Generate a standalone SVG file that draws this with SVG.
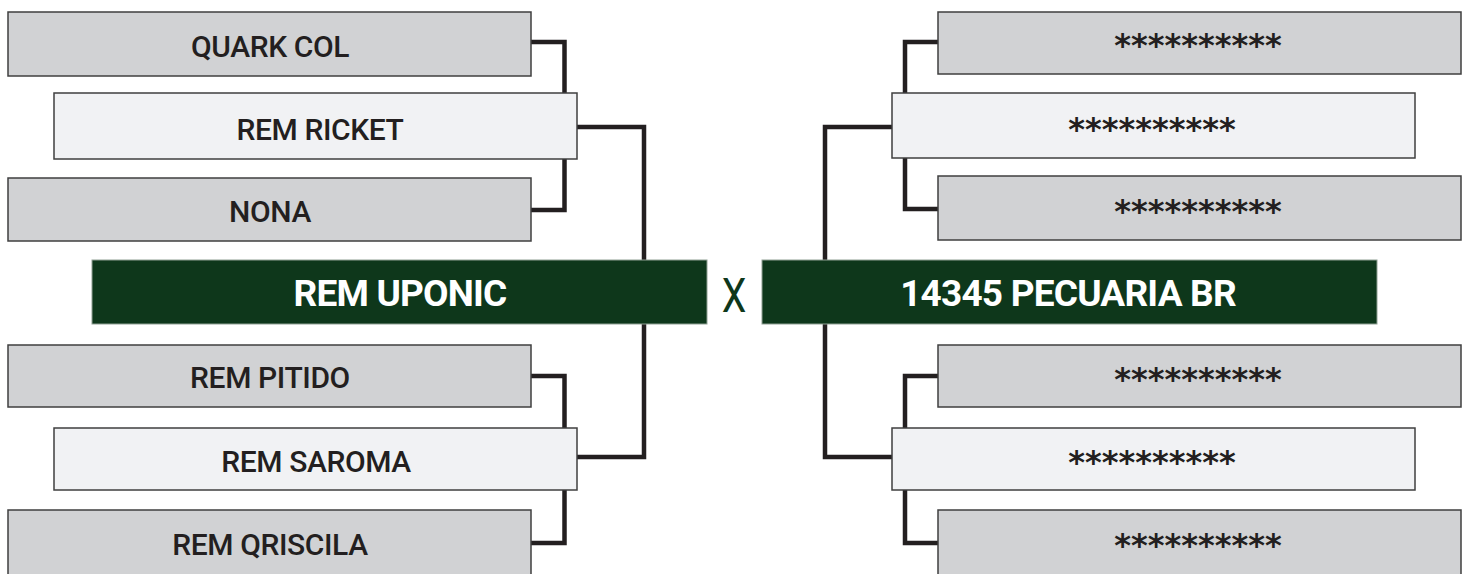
<svg xmlns="http://www.w3.org/2000/svg" width="1469" height="574" viewBox="0 0 1469 574">
<style>
.bg{fill:#ffffff}
.dk{fill:#d1d2d4;stroke:#3f3f3f;stroke-width:1.5}
.lt{fill:#f1f2f4;stroke:#3f3f3f;stroke-width:1.5}
.gr{fill:#0e371b;stroke:#8fa094;stroke-width:1}
.lbl{font-family:Roboto,"Liberation Sans",sans-serif;font-weight:500;font-size:30px;fill:#231f20;text-anchor:middle;letter-spacing:-0.4px}
.big{font-family:Roboto,"Liberation Sans",sans-serif;font-weight:700;font-size:37px;fill:#ffffff;text-anchor:middle;letter-spacing:-0.8px}
.ast{font-family:"DejaVu Sans",sans-serif;font-weight:700;font-size:32px;fill:#231f20;text-anchor:middle}
.vs{font-family:Roboto,"Liberation Sans",sans-serif;font-weight:400;font-size:49px;fill:#0e371b;text-anchor:middle}
.cn{fill:none;stroke:#231f20;stroke-width:4.5;stroke-linejoin:miter}
</style>
<rect class="bg" x="0" y="0" width="1469" height="574"/>
<g id="connectors">
<path class="cn" d="M531,42 H564.5 V210 H531"/>
<path class="cn" d="M577,127 H644 V457 H577"/>
<path class="cn" d="M531,376 H564.5 V543 H531"/>
<path class="cn" d="M938,42 H905 V209 H938"/>
<path class="cn" d="M892,127 H825 V457 H892"/>
<path class="cn" d="M938,376 H905 V543 H938"/>
</g>
<g id="quark-col"><rect class="dk" x="8" y="12" width="523" height="64"/><text class="lbl" x="270" y="57">QUARK COL</text></g>
<g id="rem-ricket"><rect class="lt" x="54" y="93" width="523" height="66"/><text class="lbl" x="320" y="140">REM RICKET</text></g>
<g id="nona"><rect class="dk" x="8" y="178" width="523" height="63"/><text class="lbl" x="270" y="222">NONA</text></g>
<g id="rem-uponic"><rect class="gr" x="92" y="260" width="615" height="64"/><text class="big" x="400" y="306">REM UPONIC</text></g>
<g id="versus"><text class="vs" transform="translate(734,312) scale(0.8,1)" x="0" y="0">X</text></g>
<g id="pecuaria"><rect class="gr" x="762" y="260" width="615" height="64"/><text class="big" x="1068" y="306">14345 PECUARIA BR</text></g>
<g id="rem-pitido"><rect class="dk" x="8" y="345" width="523" height="62"/><text class="lbl" x="270" y="388">REM PITIDO</text></g>
<g id="rem-saroma"><rect class="lt" x="54" y="428" width="523" height="62"/><text class="lbl" x="316" y="472">REM SAROMA</text></g>
<g id="rem-qriscila"><rect class="dk" x="8" y="510" width="523" height="72"/><text class="lbl" x="270" y="555">REM QRISCILA</text></g>
<g id="r1"><rect class="dk" x="938" y="12" width="523" height="62"/><text class="ast" x="1198" y="56">**********</text></g>
<g id="r2"><rect class="lt" x="892" y="93" width="523" height="65"/><text class="ast" x="1152" y="140">**********</text></g>
<g id="r3"><rect class="dk" x="938" y="176" width="523" height="64"/><text class="ast" x="1198" y="222">**********</text></g>
<g id="r4"><rect class="dk" x="938" y="345" width="523" height="62"/><text class="ast" x="1198" y="390">**********</text></g>
<g id="r5"><rect class="lt" x="892" y="428" width="523" height="62"/><text class="ast" x="1152" y="473">**********</text></g>
<g id="r6"><rect class="dk" x="938" y="510" width="523" height="72"/><text class="ast" x="1198" y="556">**********</text></g>
</svg>
